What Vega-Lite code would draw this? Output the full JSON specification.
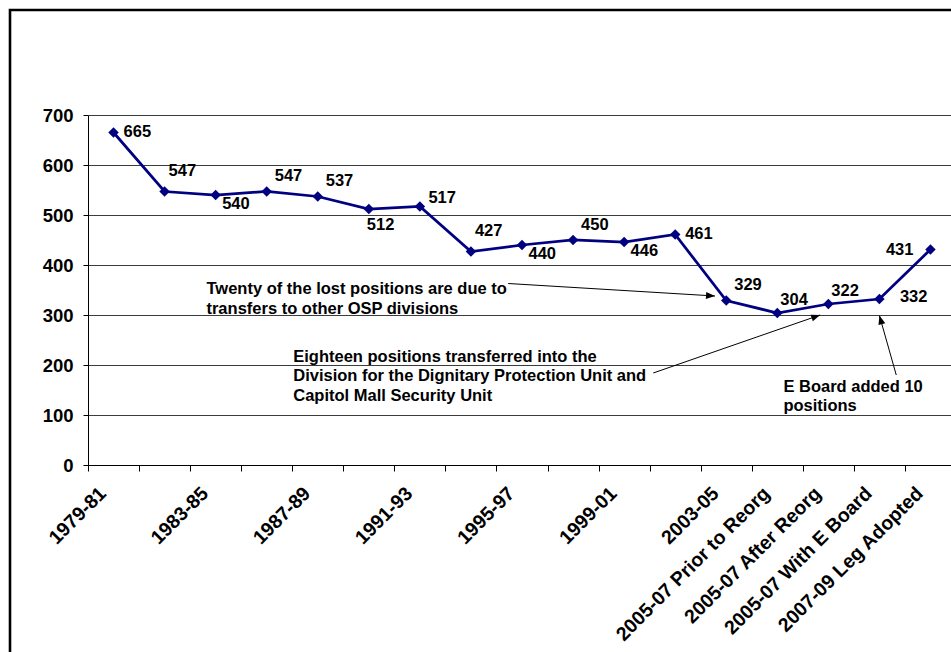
{
  "$schema": "https://vega.github.io/schema/vega-lite/v6.json",
  "width": 941,
  "height": 642,
  "autosize": {"type": "none"},
  "padding": {"left": 10, "top": 10, "right": 0, "bottom": 0},
  "background": "white",
  "config": {
    "view": {"stroke": "black", "strokeWidth": 2.6, "strokeDash": [941, 1583, 642], "fill": "white"},
    "font": "Liberation Sans",
    "text": {"font": "Liberation Sans", "fontSize": 16.5, "fontWeight": "bold", "fill": "black"}
  },
  "datasets": {
    "staff": [
      {"period": "1979-81", "positions": 665},
      {"period": "1981-83", "positions": 547},
      {"period": "1983-85", "positions": 540},
      {"period": "1985-87", "positions": 547},
      {"period": "1987-89", "positions": 537},
      {"period": "1989-91", "positions": 512},
      {"period": "1991-93", "positions": 517},
      {"period": "1993-95", "positions": 427},
      {"period": "1995-97", "positions": 440},
      {"period": "1997-99", "positions": 450},
      {"period": "1999-01", "positions": 446},
      {"period": "2001-03", "positions": 461},
      {"period": "2003-05", "positions": 329},
      {"period": "2005-07 Prior to Reorg", "positions": 304},
      {"period": "2005-07 After Reorg", "positions": 322},
      {"period": "2005-07 With E Board", "positions": 332},
      {"period": "2007-09 Leg Adopted", "positions": 431}
    ],
    "notes": [
      {"nx": 2.82, "ny": 342, "note": "Twenty of the lost positions are due to\ntransfers to other OSP divisions"},
      {"nx": 4.52, "ny": 207, "note": "Eighteen positions transferred into the\nDivision for the Dignitary Protection Unit and\nCapitol Mall Security Unit"},
      {"nx": 14.12, "ny": 147, "note": "E Board added 10\npositions"}
    ],
    "arrows": [
      {"x1": 8.73, "y1": 363, "x2": 12.78, "y2": 338},
      {"x1": 11.57, "y1": 184, "x2": 14.84, "y2": 300},
      {"x1": 16.33, "y1": 180, "x2": 16.0, "y2": 299}
    ]
  },
  "layer": [
    {
      "data": {"name": "staff"},
      "encoding": {
        "x": {
          "field": "period", "type": "nominal", "sort": null,
          "scale": {"type": "band", "range": [78, 946], "paddingInner": 0, "paddingOuter": 0},
          "axis": {
            "title": null, "orient": "bottom", "offset": -187,
            "labelAngle": -45, "labelAlign": "right", "labelBaseline": "middle",
            "labelFont": "Liberation Sans", "labelFontSize": 19.5, "labelFontWeight": "bold", "labelColor": "black",
            "labelPadding": 19, "labelOffset": -11, "labelLimit": 400, "labelOverlap": false,
            "labelExpr": "indexof(['1979-81','1983-85','1987-89','1991-93','1995-97','1999-01','2003-05','2005-07 Prior to Reorg','2005-07 After Reorg','2005-07 With E Board','2007-09 Leg Adopted'], datum.value) >= 0 ? datum.value : ''",
            "tickBand": "extent", "tickSize": 6, "tickColor": "black", "domainColor": "black", "grid": false
          }
        },
        "y": {
          "field": "positions", "type": "quantitative", "title": null,
          "scale": {"domain": [0, 700], "range": [455, 105], "nice": false, "zero": true},
          "axis": {
            "title": null, "offset": -78, "values": [0, 100, 200, 300, 400, 500, 600, 700],
            "labelFont": "Liberation Sans", "labelFontSize": 18.5, "labelFontWeight": "bold", "labelColor": "black",
            "labelPadding": 10, "tickSize": 5, "tickColor": "black", "domainColor": "black",
            "grid": true, "gridColor": "#3c3c3c", "gridWidth": 1
          }
        }
      },
      "layer": [
        {"mark": {"type": "line", "color": "#000080", "strokeWidth": 2.75}},
        {"mark": {"type": "point", "shape": "diamond", "filled": true, "color": "#000080", "size": 110, "opacity": 1}},
        {"transform": [{"filter": {"field": "period", "oneOf": ["1979-81", "2001-03"]}}],
         "mark": {"type": "text", "align": "left", "baseline": "middle", "dx": 10, "dy": -0.5},
         "encoding": {"text": {"field": "positions", "type": "quantitative"}}},
        {"transform": [{"filter": {"field": "period", "oneOf": ["1991-93"]}}],
         "mark": {"type": "text", "align": "left", "baseline": "middle", "dx": 8.5, "dy": -8.5},
         "encoding": {"text": {"field": "positions", "type": "quantitative"}}},
        {"transform": [{"filter": {"field": "period", "oneOf": ["1985-87", "1987-89", "1997-99", "2003-05"]}}],
         "mark": {"type": "text", "align": "left", "baseline": "middle", "dx": 8, "dy": -15.5},
         "encoding": {"text": {"field": "positions", "type": "quantitative"}}},
        {"transform": [{"filter": {"field": "period", "oneOf": ["2005-07 Prior to Reorg", "2005-07 After Reorg"]}}],
         "mark": {"type": "text", "align": "left", "baseline": "middle", "dx": 3, "dy": -13.5},
         "encoding": {"text": {"field": "positions", "type": "quantitative"}}},
        {"transform": [{"filter": {"field": "period", "oneOf": ["1981-83", "1993-95"]}}],
         "mark": {"type": "text", "align": "left", "baseline": "middle", "dx": 4, "dy": -21},
         "encoding": {"text": {"field": "positions", "type": "quantitative"}}},
        {"transform": [{"filter": {"field": "period", "oneOf": ["1983-85", "1995-97", "1999-01"]}}],
         "mark": {"type": "text", "align": "left", "baseline": "middle", "dx": 6.5, "dy": 9},
         "encoding": {"text": {"field": "positions", "type": "quantitative"}}},
        {"transform": [{"filter": {"field": "period", "oneOf": ["1989-91"]}}],
         "mark": {"type": "text", "align": "left", "baseline": "middle", "dx": -2, "dy": 16},
         "encoding": {"text": {"field": "positions", "type": "quantitative"}}},
        {"transform": [{"filter": {"field": "period", "oneOf": ["2005-07 With E Board"]}}],
         "mark": {"type": "text", "align": "left", "baseline": "middle", "dx": 20.5, "dy": -2},
         "encoding": {"text": {"field": "positions", "type": "quantitative"}}},
        {"transform": [{"filter": {"field": "period", "oneOf": ["2007-09 Leg Adopted"]}}],
         "mark": {"type": "text", "align": "right", "baseline": "middle", "dx": -17, "dy": 0},
         "encoding": {"text": {"field": "positions", "type": "quantitative"}}}
      ]
    },
    {
      "layer": [
        {
          "data": {"name": "arrows"},
          "mark": {"type": "rule", "color": "black", "strokeWidth": 1},
          "encoding": {
            "x": {"field": "x1", "type": "quantitative", "scale": {"domain": [0.5, 17.5], "range": [78, 946], "nice": false, "zero": false}, "axis": null},
            "x2": {"field": "x2"},
            "y": {"field": "y1", "type": "quantitative", "title": null},
            "y2": {"field": "y2"}
          }
        },
        {
          "data": {"name": "arrows"},
          "transform": [{"calculate": "atan2((datum.x2 - datum.x1) * 51.06, (datum.y2 - datum.y1) * 0.5) * 180 / PI", "as": "ang"}],
          "mark": {"type": "point", "shape": "M0,0L-0.7,1.8L0.7,1.8Z", "filled": true, "color": "black", "size": 100, "opacity": 1, "strokeWidth": 0},
          "encoding": {
            "x": {"field": "x2", "type": "quantitative", "scale": {"domain": [0.5, 17.5], "range": [78, 946], "nice": false, "zero": false}, "axis": null},
            "y": {"field": "y2", "type": "quantitative", "title": null},
            "angle": {"field": "ang", "type": "quantitative", "scale": null}
          }
        },
        {
          "data": {"name": "notes"},
          "mark": {"type": "text", "align": "left", "baseline": "alphabetic", "lineBreak": "\n", "lineHeight": 19.5},
          "encoding": {
            "x": {"field": "nx", "type": "quantitative", "scale": {"domain": [0.5, 17.5], "range": [78, 946], "nice": false, "zero": false}, "axis": null},
            "y": {"field": "ny", "type": "quantitative", "title": null},
            "text": {"field": "note", "type": "nominal"}
          }
        }
      ]
    }
  ],
  "resolve": {"scale": {"x": "independent"}}
}
